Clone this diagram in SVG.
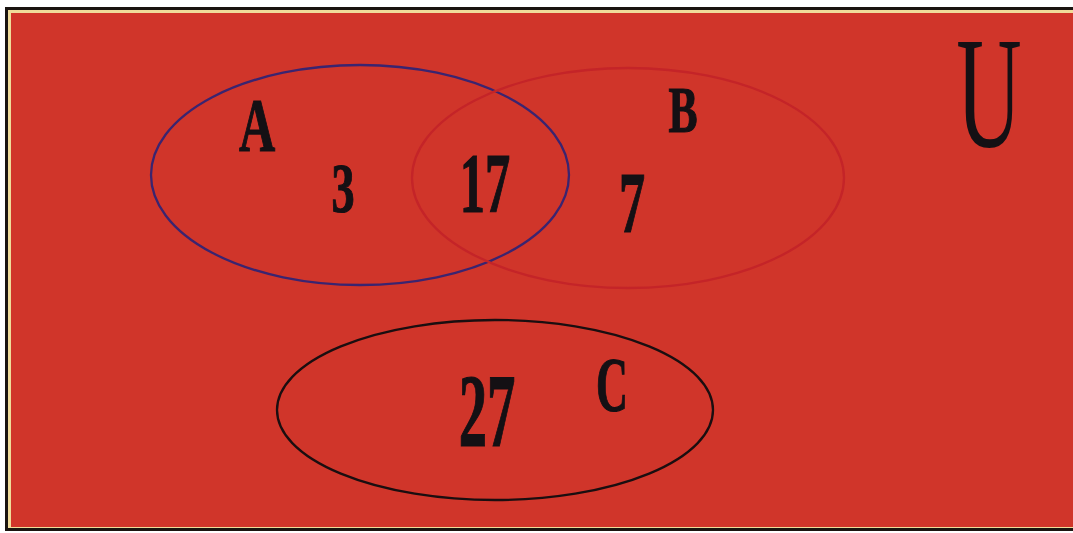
<svg xmlns="http://www.w3.org/2000/svg" width="1073" height="533" viewBox="0 0 1073 533">
<style>
.lbl{font-family:"Liberation Serif","Times New Roman",serif;font-weight:bold;fill:#141014;stroke:#141014;stroke-width:1.2;text-anchor:middle}
.set{fill:none;stroke-width:2.3}
</style>
<rect x="0" y="0" width="1073" height="533" fill="#ffffff"/>
<rect x="5" y="7" width="1068" height="524" fill="#1a1410"/>
<rect x="8" y="10" width="1065" height="518" fill="#f0dc9a"/>
<rect x="11" y="13" width="1062" height="514" fill="#d0352a"/>
<g id="setA">
<ellipse class="set" cx="360" cy="175" rx="209" ry="110" stroke="#3a2470"/>
<text class="lbl" transform="translate(257,151) scale(0.66,1)" font-size="76">A</text>
</g>
<g id="setB">
<ellipse class="set" cx="628" cy="178" rx="216" ry="110" stroke="#c42428"/>
<text class="lbl" transform="translate(683,132) scale(0.66,1)" font-size="66">B</text>
</g>
<g id="setC">
<ellipse class="set" cx="495" cy="410" rx="218" ry="90" stroke="#1a0e10"/>
<text class="lbl" transform="translate(612,411) scale(0.56,1)" font-size="79">C</text>
</g>
<g id="values">
<text class="lbl" transform="translate(343,212) scale(0.66,1)" font-size="70">3</text>
<text class="lbl" transform="translate(485,212) scale(0.6,1)" font-size="84">17</text>
<text class="lbl" transform="translate(632,232) scale(0.6,1)" font-size="87">7</text>
<text class="lbl" transform="translate(487,446) scale(0.55,1)" font-size="103">27</text>
</g>
<g id="universe">
<text transform="translate(989,146) scale(0.57,1)" font-size="159" font-family="Liberation Serif,serif" fill="#141014" text-anchor="middle">U</text>
</g>
</svg>
